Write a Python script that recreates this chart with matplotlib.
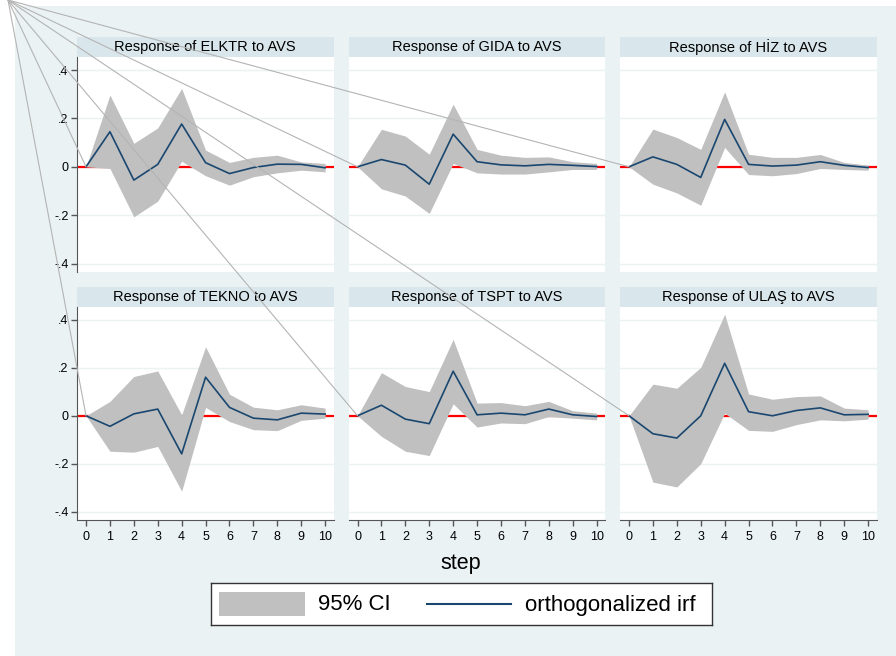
import matplotlib
matplotlib.use("Agg")
import matplotlib.pyplot as plt
from matplotlib.patches import Rectangle, ConnectionPatch
from matplotlib.lines import Line2D

plt.rcParams['font.family'] = ['Liberation Sans', 'DejaVu Sans']

steps = list(range(11))
titles = ["Response of ELKTR to AVS", "Response of GIDA to AVS", "Response of HİZ to AVS",
          "Response of TEKNO to AVS", "Response of TSPT to AVS", "Response of ULAŞ to AVS"]

irf_elktr = [0, 0.145, -0.055, 0.010, 0.177, 0.017, -0.028, -0.003, 0.011, 0.010, -0.004]
up_elktr = [0, 0.297, 0.097, 0.161, 0.324, 0.069, 0.018, 0.039, 0.048, 0.020, 0.014]
lo_elktr = [0, -0.007, -0.207, -0.142, 0.023, -0.037, -0.076, -0.041, -0.025, -0.014, -0.021]

irf_gida = [0, 0.030, 0.007, -0.072, 0.135, 0.021, 0.008, 0.004, 0.010, 0.006, 0.001]
up_gida = [0, 0.155, 0.127, 0.052, 0.259, 0.072, 0.048, 0.039, 0.041, 0.021, 0.014]
lo_gida = [0, -0.091, -0.121, -0.193, 0.014, -0.025, -0.030, -0.030, -0.021, -0.011, -0.011]

irf_hiz = [0, 0.041, 0.010, -0.044, 0.196, 0.010, 0.003, 0.007, 0.021, 0.006, -0.003]
up_hiz = [0, 0.156, 0.121, 0.072, 0.310, 0.052, 0.039, 0.039, 0.051, 0.018, 0.007]
lo_hiz = [0, -0.072, -0.108, -0.159, 0.080, -0.032, -0.037, -0.028, -0.007, -0.011, -0.014]

irf_tekno = [0, -0.044, 0.008, 0.028, -0.159, 0.161, 0.035, -0.010, -0.017, 0.011, 0.007]
up_tekno = [0, 0.060, 0.164, 0.187, 0.004, 0.288, 0.090, 0.036, 0.025, 0.046, 0.032]
lo_tekno = [0, -0.148, -0.152, -0.128, -0.315, 0.035, -0.024, -0.058, -0.062, -0.019, -0.010]

irf_tspt = [0, 0.044, -0.014, -0.033, 0.186, 0.004, 0.011, 0.004, 0.028, 0.004, -0.003]
up_tspt = [0, 0.180, 0.122, 0.101, 0.319, 0.053, 0.055, 0.042, 0.060, 0.021, 0.011]
lo_tspt = [0, -0.086, -0.148, -0.166, 0.050, -0.047, -0.030, -0.033, -0.003, -0.010, -0.017]

irf_ulas = [0, -0.075, -0.093, 0.000, 0.219, 0.017, 0.000, 0.022, 0.033, 0.004, 0.006]
up_ulas = [0, 0.132, 0.115, 0.202, 0.424, 0.091, 0.069, 0.080, 0.083, 0.032, 0.025]
lo_ulas = [0, -0.277, -0.297, -0.200, 0.011, -0.061, -0.065, -0.037, -0.017, -0.021, -0.014]

irfs = [irf_elktr, irf_gida, irf_hiz, irf_tekno, irf_tspt, irf_ulas]
uppers = [up_elktr, up_gida, up_hiz, up_tekno, up_tspt, up_ulas]
lowers = [lo_elktr, lo_gida, lo_hiz, lo_tekno, lo_tspt, lo_ulas]

yticks = [-0.4, -0.2, 0, 0.2, 0.4]
ytick_labels = ["-.4", "-.2", "0", ".2", ".4"]

W, H = 896, 656
fig = plt.figure(figsize=(W / 100, H / 100), dpi=100, facecolor='white')

BG = '#eaf2f3'
STRIP = '#d9e6eb'
CI = '#c0c0c0'
NAVY = '#1a476f'
AX = '#555555'

fig.add_artist(Rectangle((15 / W, 0), 1, 1 - 6 / H, transform=fig.transFigure,
                         facecolor=BG, edgecolor='none', zorder=-10))

col_left = [77, 348.5, 620]
col_w = 256.5
rows = [(57, 272), (307, 520)]
strip_h = 20

axes = []
for i in range(6):
    r, c = divmod(i, 3)
    top, bot = rows[r]
    x0 = col_left[c]
    ax = fig.add_axes([x0 / W, 1 - bot / H, col_w / W, (bot - top) / H])
    ax.set_facecolor('white')
    # strip
    fig.add_artist(Rectangle((x0 / W, 1 - top / H), col_w / W, strip_h / H,
                             transform=fig.transFigure, facecolor=STRIP,
                             edgecolor='none', zorder=-5))
    fig.text((x0 + col_w / 2) / W, 1 - (top - strip_h / 2) / H, titles[i],
             ha='center', va='center', fontsize=10.5, color='black')

    for yv in yticks:
        ax.axhline(yv, color=BG, lw=1.0, zorder=0.5)
    ax.axhline(0, color='red', lw=1.6, zorder=1)
    ax.fill_between(steps, lowers[i], uppers[i], color=CI, lw=0, zorder=2)
    ax.plot(steps, irfs[i], color=NAVY, lw=1.2, zorder=3)

    ax.set_xlim(-0.377, 10.35)
    ax.set_ylim(-0.435, 0.454)
    for s in ['top', 'right', 'left', 'bottom']:
        ax.spines[s].set_visible(False)
    ax.set_yticks(yticks)
    ax.set_xticks(steps)
    if c == 0:
        ax.spines['left'].set_visible(True)
        ax.spines['left'].set_color(AX)
        ax.set_yticklabels(ytick_labels, fontsize=9)
        ax.tick_params(axis='y', length=4, color=AX, width=1, pad=2)
    else:
        ax.tick_params(axis='y', length=0, labelleft=False)
    if r == 1:
        ax.spines['bottom'].set_visible(True)
        ax.spines['bottom'].set_color(AX)
        ax.set_xticklabels([str(s) for s in steps], fontsize=9)
        ax.tick_params(axis='x', length=4, color=AX, width=1, pad=4)
    else:
        ax.tick_params(axis='x', length=0, labelbottom=False)
    axes.append(ax)

fig.text(461 / W, 1 - 564 / H, "step", ha='center', va='center', fontsize=15.5)

# legend
lx0, lx1, ly0, ly1 = 211, 712, 583, 625
lax = fig.add_axes([lx0 / W, 1 - ly1 / H, (lx1 - lx0) / W, (ly1 - ly0) / H])
lax.set_xlim(lx0, lx1)
lax.set_ylim(ly1, ly0)
lax.set_xticks([])
lax.set_yticks([])
lax.set_facecolor('white')
for s in lax.spines.values():
    s.set_color('#333333')
    s.set_linewidth(1.0)
lax.add_patch(Rectangle((219, 592), 86, 24, facecolor=CI, edgecolor='none'))
lax.text(318, 605, "95% CI", ha='left', va='center', fontsize=16)
lax.add_line(Line2D([427, 511], [604, 604], color=NAVY, lw=1.5))
lax.text(525, 605, "orthogonalized irf", ha='left', va='center', fontsize=16)

# stray connector lines from the top-left corner to each panel origin
for ax in axes:
    cp = ConnectionPatch(xyA=(8 / W, 1.0), coordsA='figure fraction',
                         xyB=(0, 0), coordsB='data', axesB=ax,
                         color='#b4b4b4', lw=0.8, zorder=20)
    fig.add_artist(cp)

fig.savefig("out.png", dpi=100, facecolor='white')
